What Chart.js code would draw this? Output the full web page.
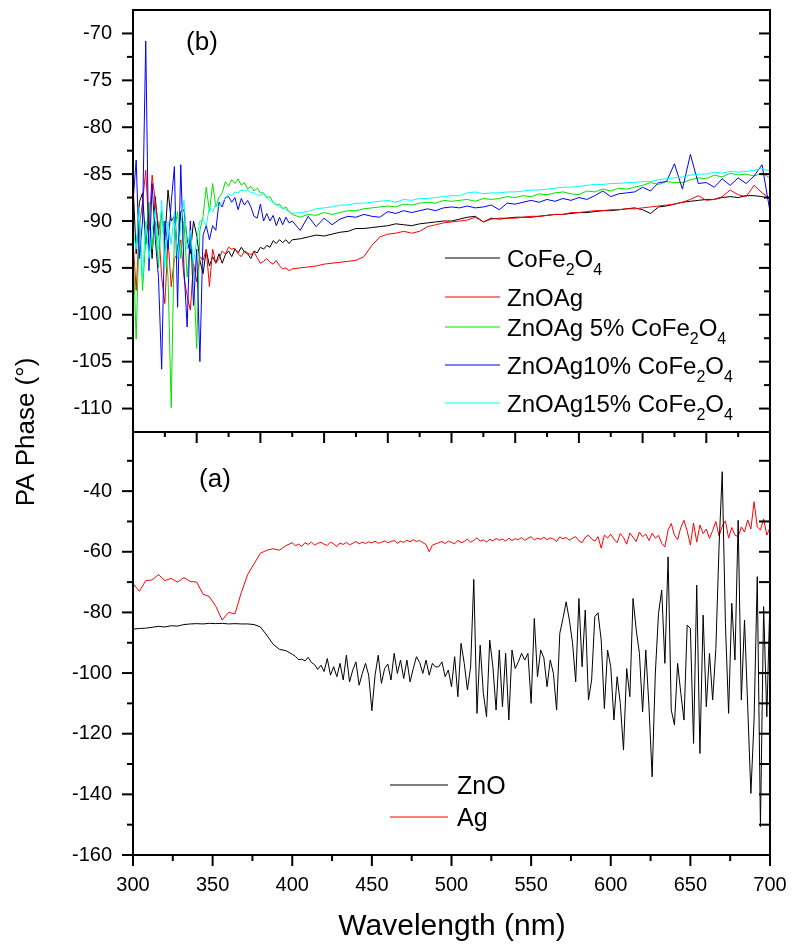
<!DOCTYPE html>
<html lang="en">
<head>
<meta charset="UTF-8" />
<title>PA Phase</title>
<style>
  html, body { margin: 0; padding: 0; background: #fff; }
  canvas { display: block; }
</style>
</head>
<body>
<canvas id="chart_id" width="794" height="947"></canvas>
<script src="https://cdn.jsdelivr.net/npm/chart.js@4.4.1/dist/chart.umd.min.js"></script>
<script>
// panel (b) wavelengths (nm)
const wlTop = [
  300, 302, 304, 306, 308, 310, 312, 314, 316, 318,
  320, 322, 324, 326, 328, 330, 332, 334, 336, 338,
  340, 342, 344, 346, 348, 350, 352, 354, 356, 358,
  360, 362, 364, 366, 368, 370, 372, 374, 376, 378,
  380, 382, 384, 386, 388, 390, 392, 394, 396, 398,
  400, 405, 410, 415, 420, 425, 430, 435, 440, 445,
  450, 455, 460, 465, 470, 475, 480, 485, 490, 495,
  500, 505, 510, 515, 520, 525, 530, 535, 540, 545,
  550, 555, 560, 565, 570, 575, 580, 585, 590, 595,
  600, 605, 610, 615, 620, 625, 630, 635, 640, 645,
  650, 655, 660, 665, 670, 675, 680, 685, 690, 695,
  700
];

const coFe2O4 = [
  -86.0, -93.5, -88.0, -87.0, -92.5, -89.0, -94.0, -87.4, -91.5, -89.0,
  -92.0, -86.7, -90.0, -89.5, -93.5, -89.0, -88.8, -92.0, -93.5, -90.0,
  -91.5, -94.2, -95.6, -93.1, -94.8, -93.8, -94.5, -93.5, -94.5, -93.6,
  -93.2, -93.8, -93.0, -93.4, -92.8, -93.3, -93.5, -94.0, -93.2, -93.4,
  -92.8, -93.0, -92.6, -92.8, -92.1, -92.4, -92.0, -92.3, -92.0, -92.4,
  -92.0, -91.9, -91.7, -91.5, -91.6, -91.4, -91.2, -91.1, -90.8, -90.8,
  -90.7, -90.6, -90.5, -90.3, -90.4, -90.5, -90.3, -90.2, -90.1, -90.0,
  -90.0, -89.8, -89.6, -89.5, -90.1, -89.7, -89.8, -89.7, -89.6, -89.6,
  -89.6, -89.5, -89.4, -89.3, -89.3, -89.2, -89.1, -89.1, -89.0, -88.9,
  -88.9, -88.8, -88.7, -88.6, -88.8, -89.2, -88.5, -88.4, -88.2, -88.0,
  -87.9, -87.8, -87.7, -87.7, -87.5, -87.4, -87.5, -87.3, -87.3, -87.4,
  -87.6
];

const znOAg = [
  -92.0, -97.4, -90.6, -88.0, -84.6, -91.0, -85.1, -88.0, -90.5, -96.0,
  -98.8, -92.0, -97.0, -94.0, -93.5, -92.0, -96.0, -98.0, -99.5, -94.5,
  -96.5, -93.8, -94.2, -93.0, -97.0, -93.0, -94.5, -94.0, -93.2, -93.5,
  -92.8, -93.0, -92.9, -93.5, -93.8, -93.2, -93.4, -93.6, -93.3, -93.9,
  -94.5, -94.3, -94.0, -94.4, -94.6, -94.2, -94.8, -95.1, -95.0, -95.3,
  -95.1, -95.0, -94.9, -94.8, -94.6, -94.5, -94.4, -94.3, -94.2, -93.8,
  -92.6, -91.7, -91.4, -91.3, -91.1, -91.3, -91.1, -90.6, -90.4, -90.2,
  -90.1, -90.0, -89.9, -89.6, -90.1, -89.8, -89.7, -89.7, -89.7, -89.6,
  -89.5, -89.5, -89.4, -89.3, -89.3, -89.1, -89.1, -89.0, -88.9, -88.9,
  -88.8, -88.8, -88.7, -88.7, -88.6, -88.5, -88.4, -88.3, -88.2, -88.0,
  -87.7, -87.3, -87.8, -87.7, -87.4, -86.7, -87.2, -87.4, -86.2, -87.0,
  -87.6
];

const znOAg5 = [
  -92.4, -102.6, -90.0, -97.4, -92.0, -88.0, -93.0, -90.0, -95.0, -89.0,
  -92.0, -96.0, -109.9, -91.0, -89.0, -94.0, -90.0, -96.0, -92.0, -95.0,
  -103.6, -91.0, -89.5, -86.4, -89.0, -86.0, -88.5, -87.5, -87.0, -85.8,
  -86.3, -85.6, -86.0, -85.5, -86.2, -85.9, -86.6, -86.3, -86.8, -86.5,
  -87.0, -87.0, -87.5, -87.4, -88.0, -88.3, -88.2, -88.7, -88.5, -89.0,
  -89.3, -89.6, -89.3, -89.4, -89.1, -89.3, -89.1, -88.9, -88.9, -88.7,
  -88.6, -88.5, -88.4, -88.5, -88.2, -88.3, -88.1, -88.0, -88.1, -87.8,
  -87.9, -87.8, -87.7, -87.9, -87.6, -87.7, -87.6, -87.4, -87.5, -87.3,
  -87.4, -87.1, -87.2, -87.0, -86.9, -87.1, -87.2, -86.8, -86.9, -86.6,
  -86.8, -86.5, -86.6, -86.4, -86.2, -85.9, -86.1, -85.8, -85.9, -85.9,
  -85.6, -85.4, -85.5, -85.1, -85.3, -84.9, -85.1, -85.0, -85.2, -84.9,
  -85.4
];

const znOAg10 = [
  -88.0, -83.5, -94.0, -90.0, -70.8, -95.3, -86.0, -92.0, -96.0, -105.8,
  -90.0, -93.0, -88.0, -84.2, -99.2, -84.0, -95.0, -101.3, -90.0, -99.0,
  -93.0, -105.0, -91.5, -90.5, -92.0, -90.5, -91.0, -88.0, -88.5, -87.5,
  -87.4, -88.0, -87.5, -88.8, -87.6, -88.3, -87.8, -88.5, -89.5, -89.7,
  -88.2, -90.0, -89.2, -90.0, -89.4, -90.5, -89.6, -90.4, -89.6, -90.2,
  -90.0, -91.0, -89.5, -90.6, -89.7, -90.4, -89.8, -89.5, -89.6, -89.3,
  -89.5, -89.6, -89.0, -89.2, -88.9, -89.1, -88.9, -88.7, -88.9, -88.6,
  -88.5, -88.6, -88.4, -88.6, -88.5, -88.3, -88.8, -88.1, -88.2, -88.0,
  -87.8, -88.0, -87.7, -87.9, -87.6, -87.8, -87.5, -87.7, -87.3, -86.8,
  -87.4, -87.1, -87.0, -86.9, -86.4, -86.8, -85.9, -85.8, -83.9, -86.6,
  -82.9, -86.0, -85.9, -86.4, -85.5, -86.2, -85.4, -86.0, -85.2, -84.0,
  -89.0
];

const znOAg15 = [
  -91.0, -93.0, -88.5, -96.0, -90.0, -94.0, -91.0, -88.8, -93.0, -87.8,
  -95.0, -90.0, -92.5, -89.0, -94.0, -90.5, -87.8, -93.0, -91.0, -94.5,
  -92.0, -90.0, -89.9, -90.5, -88.5, -89.0, -88.2, -88.5, -88.0, -87.6,
  -87.1, -87.3, -86.9, -87.0, -86.7, -86.8, -86.7, -87.0, -87.0, -87.2,
  -87.3, -87.1, -87.5, -87.8, -88.0, -88.2, -88.5, -88.6, -88.8, -89.0,
  -89.2, -89.1, -89.0, -88.7, -88.6, -88.5, -88.3, -88.3, -88.1, -88.1,
  -88.0, -87.9, -87.8, -88.0, -87.7, -87.8, -87.6, -87.6, -87.5, -87.4,
  -87.3, -87.3, -87.0, -86.9, -87.1, -87.0, -87.0, -86.9, -86.9, -86.8,
  -86.7, -86.7, -86.6, -86.5, -86.4, -86.4, -86.3, -86.2, -86.1, -86.1,
  -86.0, -86.0, -85.9, -85.9, -85.8, -85.8, -85.6, -85.5, -85.4, -85.3,
  -85.1, -85.0, -85.0, -84.8, -84.9, -84.7, -84.8, -84.7, -84.6, -84.4,
  -84.7
];

// panel (a) wavelengths (nm)
const wlBot = [
  300, 304, 308, 312, 316, 320, 324, 328, 332, 336,
  340, 344, 348, 352, 356, 360, 364, 368, 372, 376,
  380, 384, 388, 392, 396, 400,
  402, 404, 406, 408, 410, 412, 414, 416, 418, 420,
  422, 424, 426, 428, 430, 432, 434, 436, 438, 440,
  442, 444, 446, 448, 450, 452, 454, 456, 458, 460,
  462, 464, 466, 468, 470, 472, 474, 476, 478, 480,
  482, 484, 486, 488, 490, 492, 494, 496, 498, 500,
  502, 504, 506, 508, 510, 512, 514, 516, 518, 520,
  522, 524, 526, 528, 530, 532, 534, 536, 538, 540,
  542, 544, 546, 548, 550, 552, 554, 556, 558, 560,
  562, 564, 566, 568, 570, 572, 574, 576, 578, 580,
  582, 584, 586, 588, 590, 592, 594, 596, 598, 600,
  602, 604, 606, 608, 610, 612, 614, 616, 618, 620,
  622, 624, 626, 628, 630, 632, 634, 636, 638, 640,
  642, 644, 646, 648, 650, 652, 654, 656, 658, 660,
  662, 664, 666, 668, 670, 672, 674, 676, 678, 680,
  682, 684, 686, 688, 690, 692, 694, 696, 698, 700
];

const znO = [
  -85.5, -85.3, -85.2, -84.9, -84.6, -84.8, -84.4, -84.5, -84.0, -83.8,
  -83.7, -83.8, -83.6, -83.7, -83.6, -83.8, -83.7, -83.8, -83.8, -84.0,
  -84.8, -87.5, -90.5, -92.2, -92.6, -93.8,
  -94.5, -95.6, -95.4, -96.0, -94.8, -96.5, -97.2, -98.8, -97.4, -99.5,
  -95.2, -100.7, -97.9, -101.2, -96.8, -102.3, -94.1, -102.9, -99.0, -96.3,
  -104.0, -100.1, -96.8, -100.7, -112.4, -100.7, -94.1, -103.4, -98.5, -97.0,
  -102.3, -93.5, -100.1, -95.7, -101.8, -95.7, -102.9, -98.5, -94.6, -96.5,
  -100.1, -95.7, -100.7, -96.8, -98.0, -97.9, -96.3, -101.2, -99.0, -104.5,
  -94.6, -107.8, -90.2, -96.8, -105.6, -98.0, -69.1, -113.3, -90.8, -106.7,
  -114.4, -89.1, -97.9, -112.2, -92.4, -111.1, -93.5, -115.5, -92.4, -98.5,
  -96.3, -93.5, -95.7, -93.5, -110.0, -82.0, -101.2, -92.4, -95.0, -104.5,
  -95.7, -100.1, -112.2, -86.9, -82.0, -76.5, -82.5, -90.0, -102.9, -75.4,
  -97.9, -79.2, -108.9, -102.3, -81.4, -80.1, -89.1, -111.7, -92.4, -97.9,
  -115.5, -101.2, -110.0, -125.4, -98.5, -107.8, -75.4, -85.8, -93.5, -112.8,
  -92.4, -111.1, -134.2, -100.0, -80.3, -72.6, -96.8, -61.7, -112.2, -117.1,
  -96.8, -106.7, -115.5, -84.2, -85.3, -123.2, -71.0, -126.5, -80.9, -111.1,
  -93.5, -108.9, -91.9, -58.4, -33.6, -83.6, -113.3, -77.0, -95.7, -49.6,
  -108.9, -82.5, -111.1, -139.7, -115.5, -68.2, -150.7, -78.1, -114.4, -74.8
];

const ag = [
  -70.5, -73.0, -69.5, -69.3, -67.5, -69.5, -68.8, -70.0, -68.5, -69.8,
  -70.0, -74.0, -74.8, -78.0, -82.5, -80.0, -80.5, -73.5, -67.5, -64.0,
  -60.5, -59.5, -59.0, -59.5, -58.0, -57.0,
  -58.0, -57.5, -58.2, -57.0, -57.6, -56.8, -57.8, -57.2, -56.9, -57.5,
  -57.9, -56.8, -57.4, -58.3, -57.1, -57.6, -56.9, -57.7, -57.2, -56.6,
  -57.4, -56.8, -57.3, -56.7, -57.1, -56.5, -57.2, -56.9, -56.4, -57.0,
  -56.6, -56.3, -57.2, -56.5, -56.9, -56.2, -56.7, -56.0, -56.6, -56.3,
  -57.0, -57.6, -60.0, -57.8, -57.4, -57.0, -56.6, -57.3, -56.5, -56.9,
  -57.4, -56.2, -57.0, -56.6, -55.8, -56.9, -56.2, -55.4, -56.5, -56.1,
  -56.8, -55.9, -56.4, -55.6, -56.2, -55.8, -56.5, -55.5, -56.3, -55.7,
  -56.0, -55.3, -56.2, -55.6, -55.0, -56.1, -55.5, -55.9, -55.2, -56.0,
  -55.4, -55.8, -56.6, -55.1, -55.7, -55.3, -56.2, -55.5, -55.0, -56.4,
  -57.0, -55.2, -54.5, -55.8, -56.5, -55.0, -58.8, -54.5, -55.5, -54.2,
  -55.8, -57.0, -54.0, -55.3, -57.5, -53.8, -55.2, -56.6, -53.5, -55.0,
  -54.2, -56.3, -53.9, -55.5, -54.6, -57.2, -58.4, -52.8, -50.7, -54.5,
  -56.0, -52.0, -49.6, -53.2, -57.8, -50.5, -56.8, -51.2, -54.0, -52.5,
  -55.6, -53.0, -50.0, -54.8, -51.5, -49.8, -55.5, -52.0, -54.5, -55.0,
  -51.8, -53.5, -49.5, -52.5, -43.5, -51.8, -52.8, -49.2, -54.5, -52.0
];

// tick labels
const xTicks = [300, 350, 400, 450, 500, 550, 600, 650, 700];
const bTicks = [-110, -105, -100, -95, -90, -85, -80, -75, -70];
const aTicks = [-160, -140, -120, -100, -80, -60, -40];

const topLabels = ['CoFe{2}O{4}', 'ZnOAg', 'ZnOAg 5% CoFe{2}O{4}', 'ZnOAg10% CoFe{2}O{4}', 'ZnOAg15% CoFe{2}O{4}'];
const topColors = ['#000000', '#ff0000', '#00e000', '#0000ff', '#00ffff'];
const botLabels = ['ZnO', 'Ag'];
const botColors = ['#000000', '#ff0000'];

const FONT = '"Liberation Sans", Arial, sans-serif';

function series(label, wl, vals, color, axis, order) {
  return {
    label: label,
    data: wl.map((w, i) => ({ x: w, y: vals[i] })),
    borderColor: color,
    borderWidth: 1,
    pointRadius: 0,
    tension: 0,
    fill: false,
    yAxisID: axis,
    order: order
  };
}

// text with {n} subscripts
function subText(ctx, text, x, y, size) {
  text.split(/(\{\d\})/).filter(p => p).forEach(p => {
    const sub = p.charAt(0) === '{';
    const s = sub ? p.slice(1, -1) : p;
    ctx.font = (sub ? Math.round(size * 0.65) : size) + 'px ' + FONT;
    ctx.fillText(s, x, sub ? y + size * 0.37 : y);
    x += ctx.measureText(s).width;
  });
}

const panelFrame = {
  id: 'panelFrame',
  afterDraw(chart) {
    const { ctx, chartArea: a, scales } = chart;
    const x = scales.x, yb = scales.yb, ya = scales.ya;
    const seg = (x1, y1, x2, y2) => { ctx.beginPath(); ctx.moveTo(x1, y1); ctx.lineTo(x2, y2); ctx.stroke(); };
    ctx.save();
    ctx.strokeStyle = '#000';
    ctx.lineWidth = 2;
    ctx.strokeRect(a.left, yb.top, a.right - a.left, yb.bottom - yb.top);
    ctx.strokeRect(a.left, ya.top, a.right - a.left, ya.bottom - ya.top);

    bTicks.forEach(v => {
      const py = yb.getPixelForValue(v);
      seg(a.left - 11, py, a.left, py);
      seg(a.right - 11, py, a.right, py);
      const pm = yb.getPixelForValue(v + 2.5);
      if (v + 2.5 < yb.max) { seg(a.left - 6, pm, a.left, pm); seg(a.right - 6, pm, a.right, pm); }
    });
    aTicks.forEach(v => {
      const py = ya.getPixelForValue(v);
      seg(a.left - 11, py, a.left, py);
      seg(a.right - 11, py, a.right, py);
      const pm = ya.getPixelForValue(v + 10);
      if (v + 10 < ya.max) { seg(a.left - 6, pm, a.left, pm); seg(a.right - 11, pm, a.right, pm); }
    });
    xTicks.forEach(v => {
      const px = x.getPixelForValue(v);
      seg(px, a.bottom, px, a.bottom + 11);
      if (v < 700) { const pm = x.getPixelForValue(v + 25); seg(pm, a.bottom, pm, a.bottom + 6); }
    });
    // ticks hanging below panel (b)
    for (let v = 320; v <= 700; v += 20) {
      const px = x.getPixelForValue(v);
      seg(px, yb.bottom, px, yb.bottom + ((v - 300) % 40 === 0 ? 11 : 5));
    }

    // legends
    ctx.fillStyle = '#000';
    ctx.textAlign = 'left';
    ctx.textBaseline = 'alphabetic';
    const topRows = [258, 297, 327, 365, 403];
    topLabels.forEach((t, i) => {
      ctx.strokeStyle = topColors[i];
      ctx.lineWidth = 1.2;
      seg(445, topRows[i], 500, topRows[i]);
      subText(ctx, t, 507, topRows[i] + 8.6, 24);
    });
    const botRows = [785, 817];
    botLabels.forEach((t, i) => {
      ctx.strokeStyle = botColors[i];
      ctx.lineWidth = 1.2;
      seg(390, botRows[i], 448, botRows[i]);
      subText(ctx, t, 457, botRows[i] + 9, 25);
    });

    // panel marks and axis titles
    ctx.textAlign = 'center';
    ctx.textBaseline = 'middle';
    ctx.font = '26px ' + FONT;
    ctx.fillText('(b)', 202, 43);
    ctx.fillText('(a)', 215, 480);
    ctx.font = '30px ' + FONT;
    ctx.fillText('Wavelength (nm)', 452, 927);
    ctx.translate(27, 432);
    ctx.rotate(-Math.PI / 2);
    ctx.font = '26px ' + FONT;
    ctx.fillText('PA Phase (\u00B0)', 0, 0);
    ctx.restore();
  }
};

const yAxis = (min, max, weight, ticks) => ({
  type: 'linear',
  position: 'left',
  stack: 'panels',
  stackWeight: weight,
  min: min,
  max: max,
  afterBuildTicks: s => { s.ticks = ticks.map(v => ({ value: v })); },
  afterFit: s => { s.width = 133; s.paddingTop = 0; s.paddingBottom = 0; },
  grid: { display: false, drawTicks: false },
  border: { display: false },
  ticks: { padding: 21, color: '#000', font: { size: 20, family: FONT } }
});

let ctx = document.getElementById('chart_id').getContext('2d');

let chart = new Chart(ctx, {
  type: 'line',
  data: {
    datasets: [
      series('ZnO', wlBot, znO, botColors[0], 'ya', 6),
      series('Ag', wlBot, ag, botColors[1], 'ya', 7),
      series('CoFe2O4', wlTop, coFe2O4, topColors[0], 'yb', 5),
      series('ZnOAg', wlTop, znOAg, topColors[1], 'yb', 4),
      series('ZnOAg 5% CoFe2O4', wlTop, znOAg5, topColors[2], 'yb', 3),
      series('ZnOAg10% CoFe2O4', wlTop, znOAg10, topColors[3], 'yb', 2),
      series('ZnOAg15% CoFe2O4', wlTop, znOAg15, topColors[4], 'yb', 1)
    ]
  },
  options: {
    responsive: false,
    animation: false,
    layout: { padding: { top: 10, right: 24, left: 0, bottom: 0 } },
    plugins: { legend: { display: false }, tooltip: { enabled: false } },
    scales: {
      x: {
        type: 'linear',
        min: 300,
        max: 700,
        afterBuildTicks: s => { s.ticks = xTicks.map(v => ({ value: v })); },
        afterFit: s => { s.height = 92; s.paddingLeft = 0; s.paddingRight = 0; },
        grid: { display: false, drawTicks: false },
        border: { display: false },
        ticks: { padding: 18, color: '#000', autoSkip: false, maxRotation: 0, font: { size: 20, family: FONT } }
      },
      ya: yAxis(-160, -20.5, 423, aTicks),
      yb: yAxis(-112.5, -67.5, 422, bTicks)
    }
  },
  plugins: [panelFrame]
});
</script>
</body>
</html>
